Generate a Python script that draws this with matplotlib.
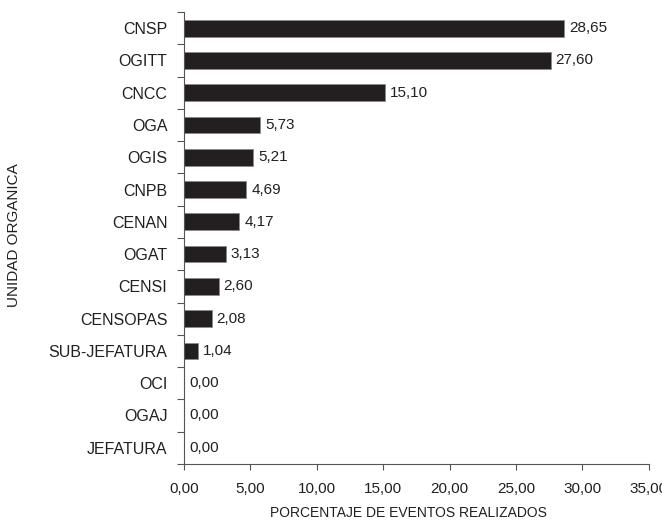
import numpy as np
import matplotlib.pyplot as plt
from matplotlib.ticker import FixedLocator

plt.rcParams['font.family'] = ['Liberation Sans', 'DejaVu Sans']

# --- DATOS ---
unidades = ['CNSP', 'OGITT', 'CNCC', 'OGA', 'OGIS', 'CNPB', 'CENAN', 'OGAT',
            'CENSI', 'CENSOPAS', 'SUB-JEFATURA', 'OCI', 'OGAJ', 'JEFATURA']
porcentajes = [28.65, 27.60, 15.10, 5.73, 5.21, 4.69, 4.17, 3.13,
               2.60, 2.08, 1.04, 0.00, 0.00, 0.00]
x_ticks = [0, 5, 10, 15, 20, 25, 30, 35]


def coma(v, dec=2):
    return f"{v:.{dec}f}".replace('.', ',')


fig = plt.figure(figsize=(6.62, 5.23), dpi=100)
ax = fig.add_axes([0.278, 0.113, 0.702, 0.864])

y = np.arange(len(unidades))
ax.barh(y, porcentajes, height=0.52, color='#231f20', edgecolor='#8a8a8a', linewidth=0.6)

for yi, v in zip(y, porcentajes):
    ax.text(v + 0.38, yi, coma(v), va='center', ha='left', fontsize=11, color='#231f20')

ax.set_ylim(len(unidades) - 0.5, -0.5)
ax.set_xlim(0, 35)

ax.set_yticks(y)
ax.set_yticklabels(unidades, fontsize=11.5, color='#231f20')
ax.yaxis.set_minor_locator(FixedLocator(np.arange(-0.5, len(unidades) + 0.5, 1)))
ax.tick_params(axis='y', which='major', length=0, pad=12)
ax.tick_params(axis='y', which='minor', length=5, width=0.8, color='#555555')

ax.set_xticks(x_ticks)
ax.set_xticklabels([coma(t) for t in x_ticks], fontsize=11, color='#231f20')
ax.tick_params(axis='x', length=4, width=0.8, direction='out', pad=9, color='#555555')

for s in ['top', 'right']:
    ax.spines[s].set_visible(False)
for s in ['left', 'bottom']:
    ax.spines[s].set_color('#555555')
    ax.spines[s].set_linewidth(0.8)

fig.text(0.617, 0.019, 'PORCENTAJE DE EVENTOS REALIZADOS', ha='center', va='center',
         fontsize=10, color='#231f20')
fig.text(0.021, 0.55, 'UNIDAD ORGANICA', rotation=90, ha='center', va='center',
         fontsize=11, color='#231f20')

fig.savefig('out.png', dpi=100)
